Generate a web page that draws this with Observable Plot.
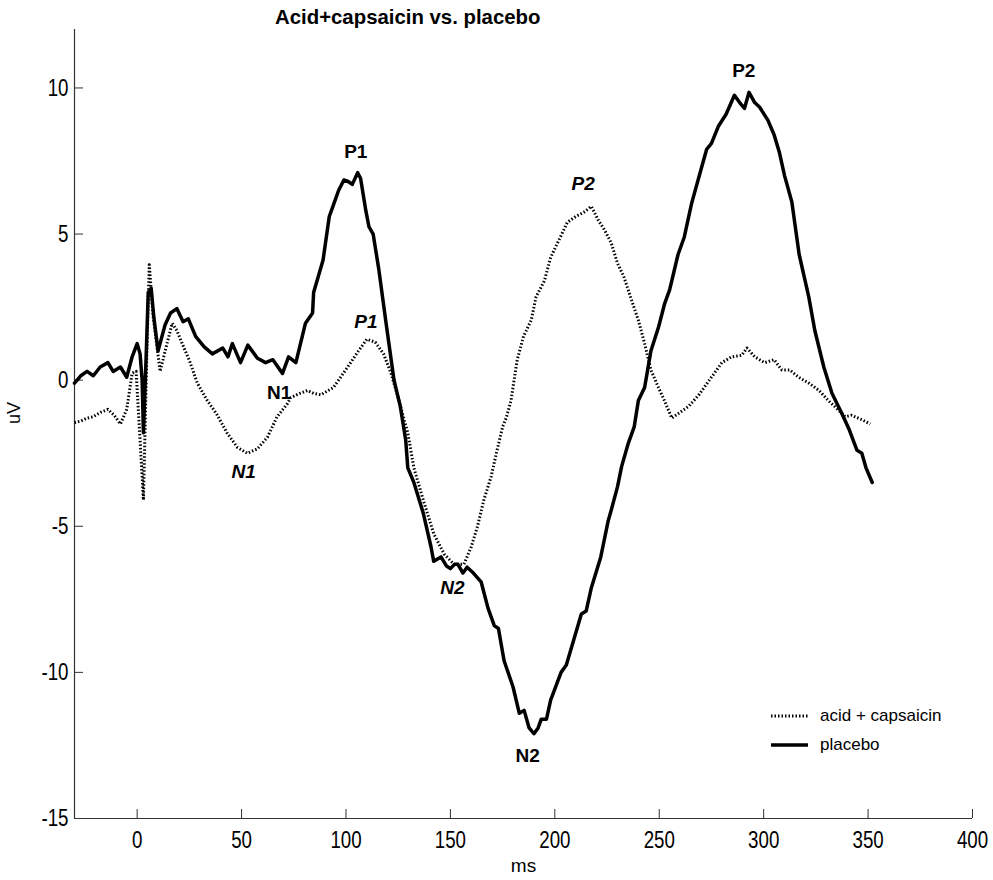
<!DOCTYPE html>
<html>
<head>
<meta charset="utf-8">
<script src="https://cdn.jsdelivr.net/npm/d3@7"></script>
<script src="https://cdn.jsdelivr.net/npm/@observablehq/plot@0.6"></script>
<style>
  html, body { margin: 0; padding: 0; background: #fff; }
  #wrap { position: relative; width: 993px; height: 880px; font-family: "Liberation Sans", Arial, sans-serif; }
  #title { position: absolute; left: 275px; top: 5px; font-weight: bold; font-size: 21px; color: #000; white-space: nowrap; transform: scaleX(0.97); transform-origin: left center; }
  #legend { position: absolute; left: 770px; top: 701px; font-size: 17px; color: #000; }
  #legend .row { display: flex; align-items: center; height: 29px; }
  #legend svg { margin-right: 12px; }
</style>
</head>
<body>
<div id="wrap">
  <div id="chart"></div>
  <div id="title">Acid+capsaicin vs. placebo</div>
  <div id="legend">
    <div class="row"><svg width="38" height="10"><line x1="1" y1="5" x2="38" y2="5" stroke="#000" stroke-width="3" stroke-dasharray="1.5,2"/></svg><span>acid + capsaicin</span></div>
    <div class="row"><svg width="38" height="10"><line x1="1" y1="5" x2="38" y2="5" stroke="#000" stroke-width="3.5"/></svg><span>placebo</span></div>
  </div>
</div>
<script>
// ---- data ----
const xTicks = [0, 50, 100, 150, 200, 250, 300, 350, 400];
const yTicks = [-15, -10, -5, 0, 5, 10];

const placeboMs = [-30,-27,-24,-21,-17.7,-14,-11.5,-8,-5,-2.4,0,1.4,2.4,3,4.3,5.3,6.7,8,10,13.4,16,19,22,24.5,28,32,36,41,43.5,45.6,49.5,53,57.6,61.5,65,69.6,72.5,76,80.6,84,84.5,89,92,94,96.5,99,101,103,105.6,107,109.5,111,113,115.7,119,123,126,128.6,129.6,132.5,137,140.7,142,145.5,148,150,152,153.6,156,158,161,164.7,168,171,173,175.7,180,183,185.3,187.7,190,192,193.5,196,198,203,205.5,209,212.7,215,217.5,222,225.6,227,230,232,235,238,240,243,246,249.6,252.5,255,259,262,265.5,269,272.7,275,278.4,282,286,288.5,290.8,293,295.7,298,302,305,307.5,310,313.5,317,321.6,324.5,328.8,332.7,337.5,341,344.7,347,349,352];
const placeboUv = [-0.1,0.15,0.3,0.15,0.45,0.6,0.3,0.45,0.1,0.8,1.25,0.9,0,-1.8,0.8,3.0,3.15,2.15,1.0,1.9,2.3,2.45,2.0,2.1,1.5,1.15,0.9,1.1,0.8,1.25,0.6,1.2,0.75,0.6,0.7,0.23,0.8,0.6,1.95,2.3,3.0,4.1,5.6,6.0,6.5,6.85,6.8,6.7,7.1,6.9,5.8,5.25,5.0,3.8,2.05,0,-0.9,-2.05,-3.0,-3.5,-4.55,-5.7,-6.2,-6.05,-6.35,-6.45,-6.3,-6.3,-6.6,-6.4,-6.6,-6.9,-7.8,-8.4,-8.5,-9.6,-10.5,-11.4,-11.3,-11.9,-12.1,-11.9,-11.6,-11.6,-10.95,-10.0,-9.75,-8.9,-8.0,-7.9,-7.1,-6.05,-4.8,-4.45,-3.65,-2.95,-2.2,-1.6,-0.7,-0.25,1.0,1.8,2.6,3.1,4.3,4.9,6.05,6.95,7.9,8.1,8.7,9.1,9.75,9.5,9.3,9.85,9.5,9.35,8.9,8.4,7.8,7.0,6.1,4.3,2.85,1.7,0.45,-0.45,-1.15,-1.7,-2.4,-2.5,-3.0,-3.5];

const acidMs = [-30,-27,-24,-21,-17.5,-14,-11,-8,-5,-2.4,-0.5,1.4,3,4.8,5.8,7.7,11,13.4,16.8,19,21.6,25.4,28.8,33.6,38,43,48,52.8,57.6,62.4,67,72,73.5,78,81.6,84.5,88,94,100.8,106,110,114,118,121.5,125,128,129.6,132.5,137,142,147,151.7,156.5,160,163,166,169.5,172,175,176.7,179,182,185,188.7,191,195,198,202,206,210,214,217.5,220.6,223.7,227,230,233,236.7,240,243,246,249.6,252.5,256,259,264,269,275,280,284.7,289.5,292,295.7,300.5,305,308.7,312.5,316.8,321.6,326.5,331,334,339,342,347,351];
const acidUv = [-1.45,-1.4,-1.3,-1.25,-1.1,-1.0,-1.2,-1.5,-1.0,0.24,0.3,-2.05,-4.1,1.4,3.95,2.15,0.3,1.0,1.95,1.7,1.25,0.6,-0.1,-0.7,-1.15,-1.8,-2.3,-2.5,-2.35,-1.95,-1.25,-0.8,-0.6,-0.45,-0.35,-0.45,-0.5,-0.25,0.45,1.0,1.4,1.3,0.9,0.25,-0.6,-1.4,-1.8,-3.0,-4.1,-5.25,-5.95,-6.3,-6.3,-5.7,-5.0,-4.1,-3.3,-2.5,-1.6,-1.3,-0.7,0.7,1.5,2.05,2.85,3.4,4.2,4.8,5.4,5.6,5.75,5.95,5.5,5.15,4.7,4.0,3.55,2.75,2.05,1.25,0.35,-0.25,-0.7,-1.3,-1.15,-0.9,-0.5,0.1,0.6,0.8,0.85,1.1,0.8,0.6,0.7,0.35,0.35,0.1,-0.1,-0.35,-0.7,-0.9,-1.25,-1.2,-1.35,-1.5];

const peakNames = ["P1", "N1", "N2", "P2"];
const placeboPeakMs = [104.7, 68, 187, 290.5];
const placeboPeakUv = [7.8, -0.45, -12.85, 10.6];
const acidPeakMs = [109.5, 51, 151, 213.6];
const acidPeakUv = [2.0, -3.15, -7.1, 6.7];

// ---- build tables ----
const placebo = placeboMs.map((ms, i) => ({ms, uv: placeboUv[i]}));
const acid = acidMs.map((ms, i) => ({ms, uv: acidUv[i]}));
const placeboPeaks = peakNames.map((name, i) => ({name, ms: placeboPeakMs[i], uv: placeboPeakUv[i]}));
const acidPeaks = peakNames.map((name, i) => ({name, ms: acidPeakMs[i], uv: acidPeakUv[i]}));

const W = 993, H = 880, mL = 74, mR = 21, mT = 29, mB = 62;
const xDom = [-30, 400], yDom = [-15, 12];
const tickPx = 9;
const yPerPx = (yDom[1] - yDom[0]) / (H - mT - mB);
const xPerPx = (xDom[1] - xDom[0]) / (W - mL - mR);
const font = '"Liberation Sans", Arial, sans-serif';

const chart = Plot.plot({
  width: W, height: H,
  marginLeft: mL, marginRight: mR, marginTop: mT, marginBottom: mB,
  x: {domain: xDom},
  y: {domain: yDom},
  style: {fontFamily: font, fontSize: "24px", background: "#fff", color: "#000", overflow: "visible"},
  marks: [
    Plot.axisX({ticks: xTicks, tickSize: 0, tickPadding: 12, label: null, fontSize: 24, tickFormat: d => String(d)}),
    Plot.axisY({ticks: yTicks, tickSize: 0, tickPadding: 6, label: null, fontSize: 24, tickFormat: d => String(d)}),
    Plot.ruleX(xTicks, {x: d => d, y1: yDom[0], y2: yDom[0] + tickPx * yPerPx, stroke: "#333", strokeWidth: 1}),
    Plot.ruleY(yTicks, {y: d => d, x1: xDom[0], x2: xDom[0] + tickPx * xPerPx, stroke: "#333", strokeWidth: 1}),
    Plot.ruleX([xDom[0]], {stroke: "#333", strokeWidth: 1.2}),
    Plot.ruleY([yDom[0]], {stroke: "#333", strokeWidth: 1.2}),
    Plot.line(acid, {x: "ms", y: "uv", stroke: "#000", strokeWidth: 3, strokeDasharray: "1.5,2", strokeLinecap: "butt"}),
    Plot.line(placebo, {x: "ms", y: "uv", stroke: "#000", strokeWidth: 3.5, strokeLinejoin: "round"}),
    Plot.text(placeboPeaks, {x: "ms", y: "uv", text: "name", fontWeight: "bold", fontSize: 19, fill: "#000"}),
    Plot.text(acidPeaks, {x: "ms", y: "uv", text: "name", fontWeight: "bold", fontStyle: "italic", fontSize: 19, fill: "#000"}),
    Plot.text(["ms"], {frameAnchor: "bottom", dy: 53, fontSize: 19, fill: "#000"}),
    Plot.text(["uV"], {frameAnchor: "left", dx: -60, rotate: -90, fontSize: 18, fill: "#000"})
  ]
});

document.getElementById("chart").appendChild(chart);

// condense the tick labels horizontally (the reference uses a narrow face)
chart.querySelectorAll('g[aria-label="x-axis tick label"] text, g[aria-label="y-axis tick label"] text').forEach(t => {
  const len = t.getComputedTextLength();
  if (len > 0) {
    t.setAttribute("textLength", (len * 0.78).toFixed(2));
    t.setAttribute("lengthAdjust", "spacingAndGlyphs");
  }
});
</script>
</body>
</html>
